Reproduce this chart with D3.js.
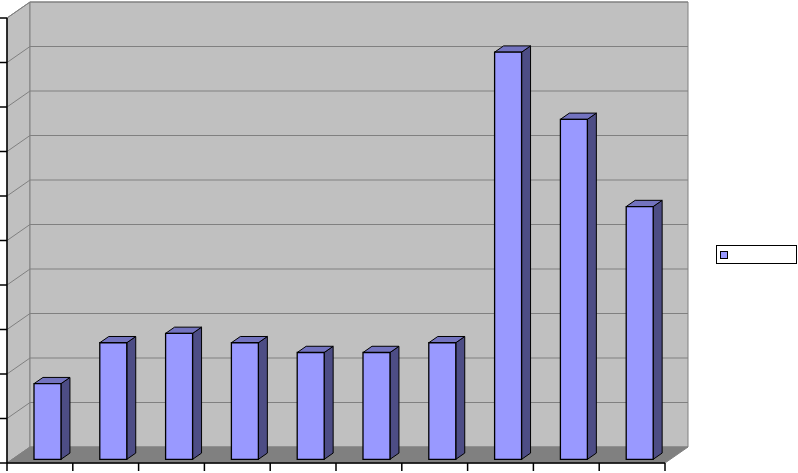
<!DOCTYPE html>
<html>
<head>
<meta charset="utf-8">
<script src="https://cdn.jsdelivr.net/npm/d3@7"></script>
<style>
	body { margin: 0; background: #fff; }
	svg { display: block; }
</style>
</head>
<body>
<div id="chart"></div>
<script>
	// values (axis labels are not shown in the original)
	var categories = ['1', '2', '3', '4', '5', '6', '7', '8', '9', '10'];
	var values = [17, 26.2, 28.3, 26.2, 24, 24, 26.2, 91.5, 76.4, 56.8];
	var yTicks = [0, 10, 20, 30, 40, 50, 60, 70, 80, 90, 100];
	var seriesName = '';

	var width = 798,
		height = 473;

	// front plane of the plot and the depth of the 3d box
	// (no "top" here: window.top is read-only)
	var plotLeft = 7, plotRight = 665, plotTop = 18, plotBottom = 463;
	var depthX = 23, depthY = -16;

	var svg = d3.select('#chart').append('svg')
		.attr('width', width)
		.attr('height', height);

	var x = d3.scaleBand()
		.domain(categories)
		.range([plotLeft, plotRight])
		.paddingInner(0.59)
		.paddingOuter(0.295);

	var y = d3.scaleLinear()
		.domain([0, 100])
		.range([plotBottom, plotTop]);

	function pt(px, py, f) {
		return [px + depthX * f, py + depthY * f];
	}
	function poly(points) {
		return points.map(function(p){ return p.join(','); }).join(' ');
	}

	// side wall
	svg.append('polygon')
		.attr('points', poly([pt(plotLeft, plotBottom, 0), pt(plotLeft, plotTop, 0), pt(plotLeft, plotTop, 1), pt(plotLeft, plotBottom, 1)]))
		.style('fill', '#c0c0c0')
		.style('stroke', '#808080');

	// back wall
	svg.append('polygon')
		.attr('points', poly([pt(plotLeft, plotBottom, 1), pt(plotLeft, plotTop, 1), pt(plotRight, plotTop, 1), pt(plotRight, plotBottom, 1)]))
		.style('fill', '#c0c0c0')
		.style('stroke', '#808080');

	// gridlines on both walls
	var grid = svg.append('g');
	yTicks.slice(1).forEach(function(t){
		var a = pt(plotLeft, y(t), 0), b = pt(plotLeft, y(t), 1), c = pt(plotRight, y(t), 1);
		grid.append('polyline')
			.attr('points', poly([a, b, c]))
			.style('fill', 'none')
			.style('stroke', '#808080')
			.style('stroke-width', 1);
	});

	// floor
	svg.append('polygon')
		.attr('points', poly([pt(plotLeft, plotBottom, 0), pt(plotRight, plotBottom, 0), pt(plotRight, plotBottom, 1), pt(plotLeft, plotBottom, 1)]))
		.style('fill', '#808080')
		.style('stroke', '#808080');

	// bars, sitting a little way into the box
	var f0 = 0.23, f1 = 0.62, barShift = 2.3;
	var bars = svg.append('g').selectAll('g')
		.data(values)
		.enter().append('g');

	bars.each(function(d, i){
		var g = d3.select(this);
		var x0 = x(categories[i]) + barShift, x1 = x0 + x.bandwidth();
		var yt = y(d), yb = y(0);
		// side
		g.append('polygon')
			.attr('points', poly([pt(x1, yb, f0), pt(x1, yt, f0), pt(x1, yt, f1), pt(x1, yb, f1)]))
			.style('fill', '#4d4d85')
			.style('stroke', '#000')
			.style('stroke-width', 1)
			.style('stroke-linejoin', 'round');
		// top
		g.append('polygon')
			.attr('points', poly([pt(x0, yt, f0), pt(x1, yt, f0), pt(x1, yt, f1), pt(x0, yt, f1)]))
			.style('fill', '#7373bf')
			.style('stroke', '#000')
			.style('stroke-width', 1)
			.style('stroke-linejoin', 'round');
		// front
		g.append('polygon')
			.attr('points', poly([pt(x0, yb, f0), pt(x0, yt, f0), pt(x1, yt, f0), pt(x1, yb, f0)]))
			.style('fill', '#9999ff')
			.style('stroke', '#000')
			.style('stroke-width', 1.3);
	});

	// value axis
	var yAxis = svg.append('g');
	yAxis.append('line')
		.attr('x1', plotLeft).attr('x2', plotLeft)
		.attr('y1', y(100)).attr('y2', y(0))
		.style('stroke', '#000').style('stroke-width', 1.5);
	yAxis.selectAll('line.tick')
		.data(yTicks)
		.enter().append('line')
		.attr('class', 'tick')
		.attr('x1', plotLeft - 7).attr('x2', plotLeft)
		.attr('y1', function(d){ return y(d); })
		.attr('y2', function(d){ return y(d); })
		.style('stroke', '#000').style('stroke-width', 1.5);

	// category axis
	var xAxis = svg.append('g');
	xAxis.append('line')
		.attr('x1', plotLeft).attr('x2', plotRight)
		.attr('y1', plotBottom).attr('y2', plotBottom)
		.style('stroke', '#000').style('stroke-width', 1.5);
	var step = x.step();
	var edges = d3.range(categories.length + 1).map(function(i){ return plotLeft + i * step; });
	xAxis.selectAll('line.tick')
		.data(edges)
		.enter().append('line')
		.attr('class', 'tick')
		.attr('x1', function(d){ return d; })
		.attr('x2', function(d){ return d; })
		.attr('y1', plotBottom).attr('y2', plotBottom + 8)
		.style('stroke', '#000').style('stroke-width', 1.5);

	// legend
	var legend = svg.append('g');
	legend.append('rect')
		.attr('x', 716.5).attr('y', 245.5)
		.attr('width', 80).attr('height', 18)
		.style('fill', '#fff')
		.style('stroke', '#000');
	legend.append('rect')
		.attr('x', 720.5).attr('y', 251.5)
		.attr('width', 7).attr('height', 7)
		.style('fill', '#9999ff')
		.style('stroke', '#000');
	legend.append('text')
		.attr('x', 732).attr('y', 258)
		.style('font-family', 'Arial, "Liberation Sans", sans-serif')
		.style('font-size', '10px')
		.text(seriesName);
</script>
</body>
</html>
